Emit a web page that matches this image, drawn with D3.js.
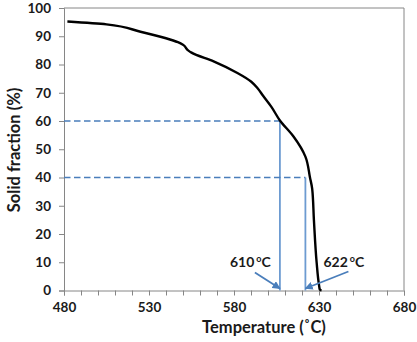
<!DOCTYPE html>
<html><head><meta charset="utf-8">
<script src="https://cdn.jsdelivr.net/npm/d3@7"></script>
<style>body{margin:0;background:#fff}svg{display:block}text{font-family:Lato,"Open Sans",sans-serif;font-weight:bold}</style>
</head><body><svg id="c" width="417" height="342"></svg>
<script>
const temperature = [482, 505, 525, 540, 547, 550, 553, 555, 568, 582, 590, 594, 597, 602, 607, 615, 622, 624.7, 626, 627, 628.6, 630, 630.5, 631.5];
const solidFraction = [95.2, 94.2, 91.6, 89.3, 87.9, 87, 85, 84.2, 81.1, 77, 74, 71.5, 69, 65, 60.2, 54.5, 47.4, 40, 36, 25, 10, 2, 0.3, 0];
const refFractions = [60, 40];
const refTemps = [607, 622];
const refLabels = ["610", "622"];
const xTicks = [480, 530, 580, 630, 680];
const yTicks = [0, 10, 20, 30, 40, 50, 60, 70, 80, 90, 100];

const svg = d3.select("#c");
const L = 64, R = 404, T = 8, B = 290.5;
const x = d3.scaleLinear().domain([480, 680]).range([L, R]);
const y = d3.scaleLinear().domain([0, 100]).range([B, T]);
const grey = "#868686";

svg.append("line").attr("x1", L).attr("x2", R).attr("y1", T).attr("y2", T).attr("stroke", grey).attr("stroke-width", 1);
svg.append("line").attr("x1", R).attr("x2", R).attr("y1", T).attr("y2", B).attr("stroke", grey).attr("stroke-width", 1);

const xAxis = svg.append("g").attr("transform", `translate(0,${B})`)
  .call(d3.axisBottom(x).tickValues(d3.range(480, 681, 10)).tickSize(5).tickFormat(d => xTicks.includes(d) ? d : ""));
const yAxis = svg.append("g").attr("transform", `translate(${L},0)`)
  .call(d3.axisLeft(y).tickValues(yTicks).tickSize(5).tickPadding(8));
[xAxis, yAxis].forEach(g => {
  g.select(".domain").attr("stroke", grey);
  g.selectAll(".tick line").attr("stroke", grey);
  g.selectAll("text").attr("fill", "#1a1a1a").style("font-size", "13.5px").style("font-family", "Lato, sans-serif").style("font-weight", "bold");
});
yAxis.selectAll("text").attr("x", -13);
xAxis.selectAll("text").attr("dy", "0.71em").attr("y", 12);

svg.append("text").attr("x", 264).attr("y", 333).attr("text-anchor", "middle").style("font-size", "16.5px").attr("fill", "#1a1a1a").text("Temperature (˚C)");
svg.append("text").attr("transform", "translate(20,150) rotate(-90)").attr("text-anchor", "middle").style("font-size", "16.5px").attr("fill", "#1a1a1a").text("Solid fraction (%)");

const blueD = "#4a7ebb", blueS = "#6d9bd1";
refFractions.forEach((f, i) => {
  svg.append("line").attr("x1", x(480)).attr("x2", x(refTemps[i])).attr("y1", y(f)).attr("y2", y(f))
    .attr("stroke", blueD).attr("stroke-width", 1.3).attr("stroke-dasharray", "6.5,3.5");
  svg.append("line").attr("x1", x(refTemps[i])).attr("x2", x(refTemps[i])).attr("y1", y(f)).attr("y2", y(0))
    .attr("stroke", blueS).attr("stroke-width", 1.8);
});

svg.append("path").datum(temperature.map((t, i) => [t, solidFraction[i]]))
  .attr("d", d3.line().x(d => x(d[0])).y(d => y(d[1])).curve(d3.curveMonotoneY))
  .attr("fill", "none").attr("stroke", "#000").attr("stroke-width", 2.4);

const defs = svg.append("defs");
defs.append("marker").attr("id", "ah").attr("viewBox", "0 0 10 10").attr("refX", 9).attr("refY", 5)
  .attr("markerWidth", 4.5).attr("markerHeight", 4.5).attr("orient", "auto")
  .append("path").attr("d", "M0,0L10,5L0,10z").attr("fill", "#4a7ebb");
const tails = [[-25, -16], [43, -17]];
const labX = [-50, 18];
refTemps.forEach((t, i) => {
  const tx = x(t), ty = y(0) - 2;
  svg.append("line").attr("x1", tx + tails[i][0]).attr("y1", ty + tails[i][1]).attr("x2", tx).attr("y2", ty)
    .attr("stroke", "#4a7ebb").attr("stroke-width", 1.8).attr("marker-end", "url(#ah)");
  const tt = svg.append("text").attr("x", tx + labX[i]).attr("y", 267).style("font-size", "14px").attr("fill", "#1a1a1a");
  tt.append("tspan").text(refLabels[i]);
  tt.append("tspan").attr("dx", 2).attr("dy", -5).style("font-size", "9px").text("o");
  tt.append("tspan").attr("dy", 5).text("C");
});
</script></body></html>
